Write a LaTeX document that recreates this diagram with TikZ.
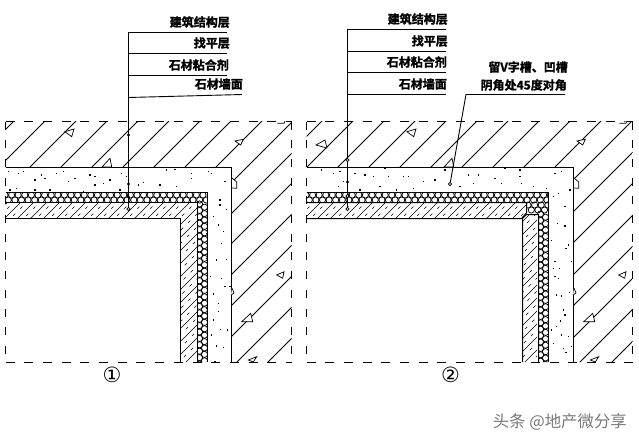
\documentclass[tikz,border=0pt]{standalone}
\usepackage{fontspec}
\newfontfamily\cjk{Noto Sans CJK SC}
\newfontfamily\cjkheavy[FakeBold=1.6]{Noto Sans CJK SC Bold}
\newfontfamily\circfont{DejaVu Sans}
\tikzset{
  wall/.style={line width=1pt,black},
  hatchline/.style={line width=0.8pt,black},
  finehatch/.style={line width=0.65pt,black},
  finedash/.style={line width=0.65pt,black,dash pattern=on 3pt off 7pt},
  meshline/.style={line width=0.75pt,black},
  limit/.style={line width=1pt,black,dash pattern=on 9pt off 9.7pt},
  limitv/.style={line width=1pt,black,dash pattern=on 8pt off 10.7pt},
  leader/.style={line width=0.9pt,black},
  note/.style={font=\cjkheavy\fontsize{12}{12}\selectfont,anchor=east,inner sep=0pt},
  aggregate/.style={line width=0.7pt,black,fill=white},
  numeral/.style={font=\circfont\fontsize{21}{21}\selectfont,inner sep=0pt},
  mark dot/.style={circle,fill=black,inner sep=0pt,minimum size=3.4pt},
  mark ring/.style={circle,draw=black,fill=white,line width=0.7pt,inner sep=0pt,minimum size=3.2pt},
}
\begin{document}
\begin{tikzpicture}[x=1pt,y=-1pt]
\useasboundingbox (0,0) rectangle (639,442);
\fill[white] (0,0) rectangle (639,442);

% ---- concrete hatching
\begin{scope}
\clip (5.5,121) -- (291.5,121) -- (291.5,362) -- (231,362) -- (231,167) -- (5.5,167) -- cycle;
\foreach \s in {135,166,197,228,259,290,321,352,383,414,445,475,506,537,568,599,630}
  \draw[hatchline] (\s-100,100) -- (\s-400,400);
\end{scope}
\begin{scope}
\clip (306.5,121) -- (632.5,121) -- (632.5,362) -- (573,362) -- (573,167) -- (306.5,167) -- cycle;
\foreach \s in {443,474,505,536,567,598,629,660,691,722,753,785,816,848,879,911,942,974}
  \draw[hatchline] (\s-100,100) -- (\s-400,400);
\end{scope}

% ---- stone hatching
\begin{scope}
\clip (5.5,202) -- (197,202) -- (197,362) -- (180,362) -- (180,218) -- (5.5,218) -- cycle;
\foreach \s in {210,223,...,570} \draw[finehatch] (\s-150,150) -- (\s-400,400);
\foreach \s in {216,229,...,570} \draw[finedash] (\s-150,150) -- (\s-400,400);
\end{scope}
\begin{scope}
\clip (306.5,202) -- (526,202) -- (526,213) -- (521,218) -- (306.5,218) -- cycle
      (537,214) -- (526,214) -- (522,218) -- (522,362) -- (537,362) -- cycle;
\foreach \s in {510,523,...,910} \draw[finehatch] (\s-150,150) -- (\s-400,400);
\foreach \s in {516,529,...,910} \draw[finedash] (\s-150,150) -- (\s-400,400);
\end{scope}

% ---- insulation mesh
\begin{scope}
\clip (5.5,192.5) -- (207,192.5) -- (207,362) -- (197,362) -- (197,202) -- (5.5,202) -- cycle;
\foreach \i in {0,...,30} {
  \draw[meshline] (5+\i*6.6,195) circle[radius=3.1pt];
  \draw[meshline] (8.3+\i*6.6,200) circle[radius=3.1pt];
}
\foreach \i in {0,...,26} {
  \draw[meshline] (199.5,204+\i*6.4) circle[radius=3.1pt];
  \draw[meshline] (204.5,207.2+\i*6.4) circle[radius=3.1pt];
}
\end{scope}
\begin{scope}
\clip (306.5,192.5) -- (548,192.5) -- (548,362) -- (538,362) -- (538,214) -- (526,214) -- (526,202) -- (306.5,202) -- cycle;
\foreach \i in {0,...,37} {
  \draw[meshline] (306+\i*6.6,195) circle[radius=3.1pt];
  \draw[meshline] (309.3+\i*6.6,200) circle[radius=3.1pt];
}
\foreach \i in {0,...,3} {
  \draw[meshline] (528+\i*6.6,205) circle[radius=3.1pt];
  \draw[meshline] (531.3+\i*6.6,210) circle[radius=3.1pt];
}
\foreach \i in {0,...,24} {
  \draw[meshline] (540.5,214+\i*6.4) circle[radius=3.1pt];
  \draw[meshline] (545.5,217.2+\i*6.4) circle[radius=3.1pt];
}
\end{scope}

% ---- structural outlines, panel 1
\draw[wall] (5.5,167.5) -- (231.5,167.5) -- (231.5,362);
\draw[wall] (5.5,192.5) -- (207.5,192.5) -- (207.5,362);
\draw[wall] (5.5,202.5) -- (197.5,202.5) -- (197.5,362);
\draw[wall] (5.5,218.5) -- (180.5,218.5) -- (180.5,362);
% ---- structural outlines, panel 2
\draw[wall] (306.5,167.5) -- (573.5,167.5) -- (573.5,362);
\draw[wall] (306.5,192.5) -- (548.5,192.5) -- (548.5,362);
\draw[wall] (306.5,202.5) -- (526.5,202.5) -- (526.5,213) -- (521.5,218.5) -- (306.5,218.5);
\draw[wall] (538.5,362) -- (538.5,214.5) -- (526.5,214.5) -- (522.5,218.5) -- (522.5,362);

% ---- limits
\draw[limit] (5.5,121.5) -- (291.5,121.5);
\draw[limit] (5.5,362.5) -- (291.5,362.5);
\draw[limitv] (5.5,121.5) -- (5.5,362.5);
\draw[limitv] (291.5,121.5) -- (291.5,362.5);
\draw[limit] (306.5,121.5) -- (632.5,121.5);
\draw[limit] (306.5,362.5) -- (632.5,362.5);
\draw[limitv] (306.5,121.5) -- (306.5,362.5);
\draw[limitv] (632.5,121.5) -- (632.5,362.5);

% ---- plaster dots, panel 1
\foreach \a/\b in {25/515,55/520,70/515,105/540,125/525,135/535,170/520,190/515,205/545,225/535,270/525,285/530,285/555,310/550,330/540,365/520,380/530,385/550,415/555,430/548,480/555,500/510,525/508,575/520,625/515,635/520,675/545,575/535,530/560,360/570,250/575,150/570,105/570,50/565,30/570,660/600,660/615,640/650,680/628}
  \fill (\a/3-0.6,\b/3-0.6) rectangle +(1.4,1.4);
\foreach \a/\b in {655/15,670/35,665/70,620/40,620/115,650/120,680/118,632/170,665/175,675/200,690/200,640/222,655/250,620/265,655/275,640/300,662/328,682/330,635/345,620/352,650/378,670/382,645/425}
  \fill (\a/3-0.6,220+\b/3-0.6) rectangle +(1.4,1.4);
% ---- plaster dots, panel 2
\foreach \a/\b in {5/510,40/520,60/515,55/560,70/545,105/520,135/525,160/530,195/505,205/530,250/530,265/530,120/570,180/560,230/570,280/565,310/545,345/540,375/510,420/560,445/525,475/525,460/550,525/535,555/505,545/550,600/510,600/530,605/550,640/560,680/565,705/520,725/515,750/570,715/580,735/620,700/590}
  \fill (320+\a/3-0.6,\b/3-0.6) rectangle +(1.4,1.4);
\foreach \a/\b in {712/10,735/18,695/62,745/75,738/85,755/125,705/125,700/145,718/145,705/170,715/175,710/225,725/228,748/218,730/270,735/285,722/303,695/330,710/320,725/345,745/350,700/370,730/385,738/398,755/380}
  \fill (320+\a/3-0.6,220+\b/3-0.6) rectangle +(1.4,1.4);

% ---- aggregate triangles
\foreach \d in {0,342} {
  \begin{scope}[xshift=\d pt]
  \draw[aggregate] (65,131.7) -- (74,129) -- (71.7,136.7) -- cycle;
  \draw[aggregate] (235,141) -- (243.3,139.3) -- (240.7,145) -- cycle;
  \draw[aggregate] (102,167) -- (110,158.3) -- (111.7,167) -- cycle;
  \draw[aggregate] (232,178) -- (236.7,182) -- (236.7,188.3) -- (232,188);
  \draw[aggregate] (277.3,123.3) -- (284,123.3) -- (285,121);
  \draw[aggregate] (276.7,275) -- (284,271.7) -- (282.7,278.3) -- cycle;
  \draw[aggregate] (241.7,321.7) -- (250.7,313.3) -- (252.7,321.7) -- cycle;
  \draw[aggregate] (248.3,360) -- (256.7,356.7) -- (253.3,362) -- cycle;
  \draw[aggregate] (232,288) -- (234,293) -- (231,295);
  \end{scope}
}
\draw[aggregate] (316,145) -- (325,140) -- (327,148) -- cycle;

% ---- panel 1 leader
\coordinate (aTop) at (128.5,32.5);
\coordinate (aEnd) at (128.5,209);
\coordinate (a1e) at (227,32.5);
\coordinate (a2s) at (128.5,53.5); \coordinate (a2e) at (227,53.5);
\coordinate (a3s) at (128.5,75.5); \coordinate (a3e) at (227,75.5);
\coordinate (a4s) at (128.5,97.5); \coordinate (a4e) at (242,94.5);
\draw[leader] (a1e) -- (aTop) -- (aEnd);
\draw[leader] (a2s) -- (a2e);
\draw[leader] (a3s) -- (a3e);
\draw[leader] (a4s) -- (a4e);
\node[mark dot] (ad1) at (128.5,135) {};
\node[mark dot] (ad2) at (128.5,184) {};
\node[mark dot] (ad3) at (128.5,197) {};
\node[mark ring] (ad4) at (128.5,209) {};
\node[note] (al1) at (230,22) {建筑结构层};
\node[note] (al2) at (230,43) {找平层};
\node[note] (al3) at (229,65) {石材粘合剂};
\node[note] (al4) at (243,84) {石材墙面};

% ---- panel 2 leader
\coordinate (bTop) at (347.5,29.5);
\coordinate (bEnd) at (347.5,209);
\coordinate (b1e) at (446,29.5);
\coordinate (b2s) at (347.5,51); \coordinate (b2e) at (446,51);
\coordinate (b3s) at (347.5,72.5); \coordinate (b3e) at (446,72.5);
\coordinate (b4s) at (347.5,94.5); \coordinate (b4e) at (446,94.5);
\draw[leader] (b1e) -- (bTop) -- (bEnd);
\draw[leader] (b2s) -- (b2e);
\draw[leader] (b3s) -- (b3e);
\draw[leader] (b4s) -- (b4e);
\node[mark ring] (bd1) at (347.5,160) {};
\node[mark dot] (bd2) at (347.5,182) {};
\node[mark ring] (bd3) at (347.5,196) {};
\node[mark ring] (bd4) at (347.5,209) {};
\node[note] (bl1) at (448,19) {建筑结构层};
\node[note] (bl2) at (448,41) {找平层};
\node[note] (bl3) at (447,62) {石材粘合剂};
\node[note] (bl4) at (447,84) {石材墙面};

\coordinate (cEnd) at (565,94.5);
\coordinate (cBend) at (466,94.5);
\node[mark ring] (cd) at (450,184) {};
\draw[leader] (cEnd) -- (cBend) -- (cd);
\node[note] (cl1) at (568,67) {留V字槽、凹槽};
\node[note] (cl2) at (567,85) {阴角处45度对角};

% ---- numerals
\node[numeral] (n1) at (112,375) {①};
\node[numeral] (n2) at (450.5,375) {②};

% ---- watermark
\node[font=\cjk\fontsize{16.4}{16.4}\selectfont,text=black!52,anchor=east,inner sep=0pt] (wm) at (627,421.5) {头条 @地产微分享};
\end{tikzpicture}
\end{document}
